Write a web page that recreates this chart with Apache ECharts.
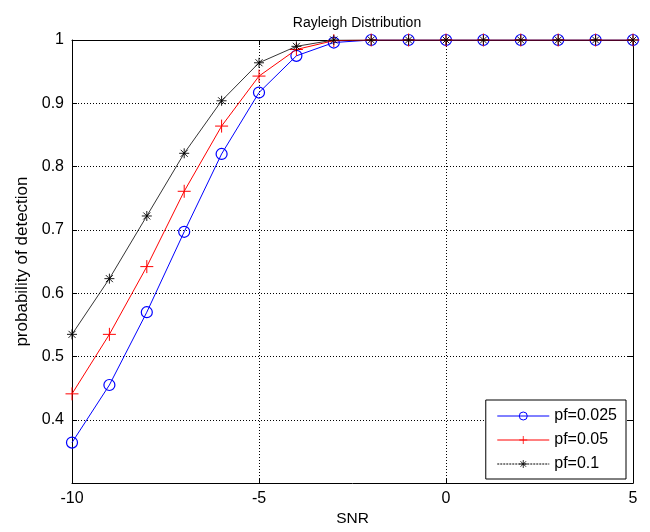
<!DOCTYPE html>
<html>
<head>
<meta charset="utf-8">
<script src="https://cdn.jsdelivr.net/npm/echarts@6/dist/echarts.min.js"></script>
<style>
  html, body { margin: 0; padding: 0; background: #fff; }
  #chart { width: 650px; height: 532px; }
</style>
</head>
<body>
<div id="chart"></div>
<script>
// SNR values (dB)
const snr = [-10, -9, -8, -7, -6, -5, -4, -3, -2, -1, 0, 1, 2, 3, 4, 5]

// probability of detection
const pd025 = [0.364, 0.455, 0.570, 0.697, 0.820, 0.917, 0.975, 0.996, 1, 1, 1, 1, 1, 1, 1, 1]
const pd05 = [0.441, 0.535, 0.642, 0.761, 0.864, 0.943, 0.985, 0.999, 1, 1, 1, 1, 1, 1, 1, 1]
const pd1 = [0.535, 0.623, 0.722, 0.821, 0.904, 0.964, 0.990, 1, 1, 1, 1, 1, 1, 1, 1, 1]

const seriesNames = ['pf=0.025', 'pf=0.05', 'pf=0.1']

const plusPath = 'path://M5,0L5,10M0,5L10,5'
const starPath = 'path://M5,0L5,10M0,5L10,5M1.5,1.5L8.5,8.5M8.5,1.5L1.5,8.5'

const toPairs = (ys) => snr.map((x, i) => [x, ys[i]])

const chart = echarts.init(document.getElementById('chart'))

const font = 'Liberation Sans, Arial, sans-serif'
const gridLine = { show: true, lineStyle: { color: '#000', type: [1, 2], width: 1 } }

const option = {
  backgroundColor: '#fff',
  animation: false,
  textStyle: { fontFamily: font },
  title: {
    text: 'Rayleigh Distribution',
    left: 352,
    top: 11,
    textAlign: 'center',
    textStyle: { fontSize: 14, fontWeight: 'normal', color: '#000', fontFamily: font }
  },
  grid: { left: 72, right: 17, top: 40, bottom: 46 },
  legend: {
    right: 24,
    bottom: 53,
    orient: 'vertical',
    backgroundColor: '#fff',
    borderColor: '#000',
    borderWidth: 1,
    borderRadius: 0,
    padding: [8, 9, 7, 11],
    itemGap: 8,
    itemWidth: 52,
    itemHeight: 10,
    textStyle: { fontSize: 16, color: '#000', fontFamily: font },
    data: [
      { name: seriesNames[0], lineStyle: { width: 1 }, itemStyle: { borderWidth: 1 } },
      { name: seriesNames[1], lineStyle: { width: 1 }, itemStyle: { borderWidth: 0.8 } },
      { name: seriesNames[2], lineStyle: { width: 1, type: [2, 1] }, itemStyle: { borderWidth: 0.8 } }
    ]
  },
  xAxis: [
    {
      type: 'value',
      min: -10,
      max: 5,
      interval: 5,
      name: 'SNR',
      nameLocation: 'middle',
      nameGap: 27,
      nameTextStyle: { fontSize: 15.5, color: '#000' },
      axisLine: { show: true, onZero: false, lineStyle: { color: '#000' } },
      axisTick: { show: true, inside: true, length: 5, lineStyle: { color: '#000' } },
      axisLabel: { fontSize: 16, color: '#000', margin: 7 },
      splitLine: gridLine
    },
    {
      type: 'value',
      position: 'top',
      min: -10,
      max: 5,
      interval: 5,
      axisLine: { show: true, onZero: false, lineStyle: { color: '#000' } },
      axisTick: { show: true, inside: true, length: 5, lineStyle: { color: '#000' } },
      axisLabel: { show: false },
      splitLine: { show: false }
    }
  ],
  yAxis: [
    {
      type: 'value',
      min: 0.3,
      max: 1,
      interval: 0.1,
      name: 'probability of detection',
      nameLocation: 'middle',
      nameGap: 39,
      nameTextStyle: { fontSize: 17, color: '#000' },
      axisLine: { show: true, onZero: false, lineStyle: { color: '#000' } },
      axisTick: { show: true, inside: true, length: 5, lineStyle: { color: '#000' } },
      axisLabel: {
        fontSize: 16,
        color: '#000',
        margin: 8,
        formatter: (v) => (v < 0.35 ? '' : String(+v.toFixed(1)))
      },
      splitLine: gridLine
    },
    {
      type: 'value',
      position: 'right',
      min: 0.3,
      max: 1,
      interval: 0.1,
      axisLine: { show: true, onZero: false, lineStyle: { color: '#000' } },
      axisTick: { show: true, inside: true, length: 5, lineStyle: { color: '#000' } },
      axisLabel: { show: false },
      splitLine: { show: false }
    }
  ],
  series: [
    {
      name: seriesNames[0],
      type: 'line',
      data: toPairs(pd025),
      symbol: 'circle',
      symbolSize: 11,
      lineStyle: { color: '#0000ff', width: 1 },
      itemStyle: { color: 'rgba(0,0,0,0)', borderColor: '#0000ff', borderWidth: 1.2 },
      z: 2
    },
    {
      name: seriesNames[1],
      type: 'line',
      data: toPairs(pd05),
      symbol: plusPath,
      symbolSize: 13,
      lineStyle: { color: '#ff0000', width: 1 },
      itemStyle: { color: '#ff0000', borderColor: '#ff0000', borderWidth: 1 },
      z: 3
    },
    {
      name: seriesNames[2],
      type: 'line',
      data: toPairs(pd1),
      symbol: starPath,
      symbolSize: 10,
      lineStyle: { color: '#000', width: 0.8 },
      itemStyle: { color: '#000', borderColor: '#000', borderWidth: 0.9 },
      z: 4
    }
  ]
}

chart.setOption(option)
</script>
</body>
</html>
